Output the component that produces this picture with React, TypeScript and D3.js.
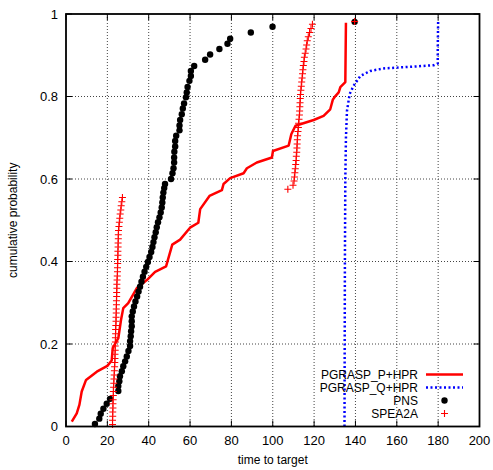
import React from 'react';
import * as d3 from 'd3';

// series: [time, cumulative probability]
const pgraspP: [number, number][] = [
  [2.8, 0.012], [5.2, 0.032], [6.5, 0.053], [7.6, 0.085], [9.7, 0.113], [14.9, 0.133],
  [20.0, 0.147], [22.1, 0.16], [22.6, 0.19], [25.3, 0.214], [26.6, 0.258], [27.7, 0.287],
  [30.1, 0.299], [34.2, 0.335], [39.1, 0.355], [43.1, 0.375], [48.4, 0.388], [51.4, 0.441],
  [55.2, 0.453], [60.0, 0.482], [64.0, 0.494], [64.9, 0.527], [69.4, 0.559], [75.4, 0.573],
  [76.2, 0.588], [79.4, 0.602], [85.9, 0.614], [87.5, 0.626], [92.3, 0.64], [99.6, 0.652],
  [100.1, 0.668], [107.7, 0.681], [109.0, 0.709], [111.0, 0.729], [119.8, 0.743], [124.6, 0.753],
  [127.8, 0.769], [129.1, 0.793], [130.3, 0.801], [131.9, 0.81], [132.7, 0.823], [135.1, 0.835],
  [135.4, 0.979],
];

const pgraspQ: [number, number][] = [
  [134.7, 0.0], [134.8, 0.2], [134.9, 0.4], [135.1, 0.6], [135.4, 0.7], [135.9, 0.765],
  [137.2, 0.806], [139.1, 0.826], [142.4, 0.85], [147.2, 0.862], [153.7, 0.868], [160.1, 0.87],
  [169.8, 0.873], [177.9, 0.876], [179.8, 0.88], [179.8, 0.918], [180.0, 0.983],
];

const pns: [number, number][] = [
  [14.0, 0.006], [16.1, 0.019], [16.8, 0.031], [18.1, 0.043], [19.7, 0.055], [21.3, 0.067],
  [25.3, 0.086], [25.3, 0.098], [25.8, 0.11], [26.1, 0.122], [27.0, 0.134], [27.7, 0.146],
  [28.6, 0.158], [29.4, 0.17], [30.2, 0.183], [31.0, 0.195], [31.0, 0.207], [31.3, 0.219],
  [31.5, 0.231], [31.8, 0.243], [31.8, 0.255], [31.8, 0.267], [32.3, 0.279], [32.9, 0.291],
  [33.6, 0.303], [34.4, 0.315], [35.1, 0.327], [35.8, 0.339], [36.5, 0.351], [37.2, 0.363],
  [38.0, 0.375], [38.8, 0.387], [39.6, 0.399], [40.4, 0.411], [41.2, 0.423], [41.8, 0.435],
  [42.3, 0.447], [42.8, 0.459], [43.4, 0.471], [43.9, 0.483], [44.5, 0.495], [45.2, 0.507],
  [45.8, 0.519], [46.3, 0.531], [46.6, 0.543], [46.8, 0.555], [47.1, 0.567], [47.5, 0.578],
  [47.9, 0.588], [50.8, 0.6], [51.5, 0.614], [52.0, 0.626], [52.3, 0.64], [52.3, 0.652],
  [52.4, 0.666], [52.8, 0.679], [52.8, 0.692], [53.3, 0.705], [54.9, 0.718], [54.9, 0.73],
  [55.2, 0.743], [56.0, 0.757], [56.5, 0.771], [57.1, 0.783], [58.0, 0.798], [58.4, 0.81],
  [58.8, 0.823], [59.7, 0.838], [60.4, 0.85], [60.4, 0.862], [62.0, 0.874], [67.3, 0.889],
  [69.7, 0.902], [74.2, 0.915], [78.1, 0.928], [79.4, 0.94], [89.4, 0.955], [99.9, 0.969],
  [139.6, 0.981],
];

const spea2a: [number, number][] = [
  [22.5, 0.005], [22.5, 0.015], [22.6, 0.025], [22.6, 0.035], [22.7, 0.045], [22.7, 0.055],
  [22.8, 0.065], [22.9, 0.075], [22.9, 0.085], [23.0, 0.095], [23.1, 0.105], [23.2, 0.115],
  [23.3, 0.125], [23.4, 0.135], [23.5, 0.145], [23.6, 0.155], [23.7, 0.165], [23.7, 0.175],
  [23.8, 0.185], [23.8, 0.195], [23.9, 0.205], [23.9, 0.215], [24.0, 0.225], [24.0, 0.235],
  [24.1, 0.245], [24.2, 0.255], [24.2, 0.265], [24.3, 0.275], [24.3, 0.285], [24.4, 0.295],
  [24.4, 0.305], [24.5, 0.315], [24.5, 0.325], [24.6, 0.335], [24.6, 0.345], [24.7, 0.355],
  [24.8, 0.365], [24.9, 0.375], [24.9, 0.385], [25.0, 0.395], [25.0, 0.405], [25.1, 0.415],
  [25.1, 0.425], [25.2, 0.435], [25.2, 0.445], [25.3, 0.455], [25.3, 0.465], [25.4, 0.475],
  [25.6, 0.485], [25.8, 0.495], [26.0, 0.505], [26.2, 0.515], [26.5, 0.525], [26.7, 0.535],
  [27.0, 0.545], [27.3, 0.555],
  [107.3, 0.575], [109.8, 0.585], [110.3, 0.595], [110.5, 0.605], [110.7, 0.615], [110.9, 0.625],
  [111.1, 0.635], [111.3, 0.645], [111.4, 0.655], [111.6, 0.665], [111.7, 0.675], [111.8, 0.685],
  [111.9, 0.695], [112.0, 0.705], [112.2, 0.715], [112.4, 0.725], [112.5, 0.735], [112.7, 0.745],
  [112.9, 0.755], [113.0, 0.765], [113.1, 0.775], [113.2, 0.785], [113.3, 0.795], [113.4, 0.805],
  [113.6, 0.815], [113.8, 0.825], [114.0, 0.835], [114.2, 0.845], [114.4, 0.855], [114.6, 0.865],
  [114.8, 0.875], [115.1, 0.885], [115.3, 0.895], [115.7, 0.905], [116.1, 0.915], [116.4, 0.925],
  [116.7, 0.935], [117.2, 0.945], [117.8, 0.955], [118.5, 0.965], [119.2, 0.975], [139.6, 0.982],
];

const xTicks = [0, 20, 40, 60, 80, 100, 120, 140, 160, 180, 200];
const yTicks = [0, 0.2, 0.4, 0.6, 0.8, 1];
const yTickLabels = ['0', '0.2', '0.4', '0.6', '0.8', '1'];
const legendLabels = ['PGRASP_P+HPR', 'PGRASP_Q+HPR', 'PNS', 'SPEA2A'];

const W = 493, H = 470;
const plot = {left: 66, right: 479.5, top: 14, bottom: 426.5};
const font = '"Liberation Sans", Arial, Helvetica, sans-serif';

export default function App() {
  const x = d3.scaleLinear().domain([0, 200]).range([plot.left, plot.right]);
  const y = d3.scaleLinear().domain([0, 1]).range([plot.bottom, plot.top]);

  const line = d3.line<[number, number]>()
    .x(d => x(d[0]))
    .y(d => y(d[1]));

  const tick = 6;
  const legY = [374.5, 387.5, 400.5, 413.5];

  return (
    <svg width={W} height={H} style={{position: 'absolute', left: 0, top: 0, background: '#fff'}}
         fontFamily={font}>
      {/* grid */}
      <g stroke="#444" strokeWidth={1} strokeDasharray="1,2">
        {xTicks.slice(1, -1).map(t => (
          <line key={'gx' + t} x1={x(t)} x2={x(t)} y1={plot.top} y2={plot.bottom} />
        ))}
        {yTicks.slice(1, -1).map(t => (
          <line key={'gy' + t} x1={plot.left} x2={plot.right} y1={y(t)} y2={y(t)} />
        ))}
      </g>

      {/* tick marks, mirrored */}
      <g stroke="#000" strokeWidth={1}>
        {xTicks.map(t => (
          <g key={'tx' + t}>
            <line x1={x(t)} x2={x(t)} y1={plot.bottom} y2={plot.bottom - tick} />
            <line x1={x(t)} x2={x(t)} y1={plot.top} y2={plot.top + tick} />
          </g>
        ))}
        {yTicks.map(t => (
          <g key={'ty' + t}>
            <line x1={plot.left} x2={plot.left + tick} y1={y(t)} y2={y(t)} />
            <line x1={plot.right} x2={plot.right - tick} y1={y(t)} y2={y(t)} />
          </g>
        ))}
      </g>

      {/* tick labels */}
      <g fontSize={13} fill="#000">
        {xTicks.map(t => (
          <text key={'lx' + t} x={x(t)} y={plot.bottom + 18} textAnchor="middle">{t}</text>
        ))}
        {yTicks.map((t, i) => (
          <text key={'ly' + t} x={plot.left - 8} y={y(t) + 4.5} textAnchor="end">{yTickLabels[i]}</text>
        ))}
      </g>

      <text x={(plot.left + plot.right) / 2} y={464} fontSize={12} textAnchor="middle">time to target</text>
      <text transform={`translate(17, ${(plot.top + plot.bottom) / 2}) rotate(-90)`} fontSize={12}
            textAnchor="middle">cumulative probability</text>

      {/* series */}
      <path d={line(pgraspQ) || ''} fill="none" stroke="#0000ff" strokeWidth={2.5} strokeDasharray="2,2.5" />
      <path d={line(pgraspP) || ''} fill="none" stroke="#ff0000" strokeWidth={2.5} strokeLinejoin="round" />
      <g fill="#000">
        {pns.map((d, i) => (
          <circle key={'p' + i} cx={x(d[0])} cy={y(d[1])} r={3.2} />
        ))}
      </g>
      <g stroke="#ff0000" strokeWidth={1.1}>
        {spea2a.map((d, i) => (
          <path key={'s' + i} d={`M${x(d[0]) - 3.5},${y(d[1])}h7M${x(d[0])},${y(d[1]) - 3.5}v7`} />
        ))}
      </g>

      {/* legend */}
      <g fontSize={12}>
        {legendLabels.map((l, i) => (
          <text key={l} x={418} y={legY[i] + 4.3} textAnchor="end">{l}</text>
        ))}
        <line x1={426} x2={463} y1={legY[0]} y2={legY[0]} stroke="#ff0000" strokeWidth={2.5} />
        <line x1={426} x2={463} y1={legY[1]} y2={legY[1]} stroke="#0000ff" strokeWidth={2.5} strokeDasharray="2,2.5" />
        <circle cx={444.5} cy={legY[2]} r={3.2} fill="#000" />
        <path d={`M${441},${legY[3]}h7M${444.5},${legY[3] - 3.5}v7`} stroke="#ff0000" strokeWidth={1.1} />
      </g>

      {/* border */}
      <rect x={plot.left} y={plot.top} width={plot.right - plot.left} height={plot.bottom - plot.top}
            fill="none" stroke="#000" strokeWidth={1.8} />
    </svg>
  );
}
